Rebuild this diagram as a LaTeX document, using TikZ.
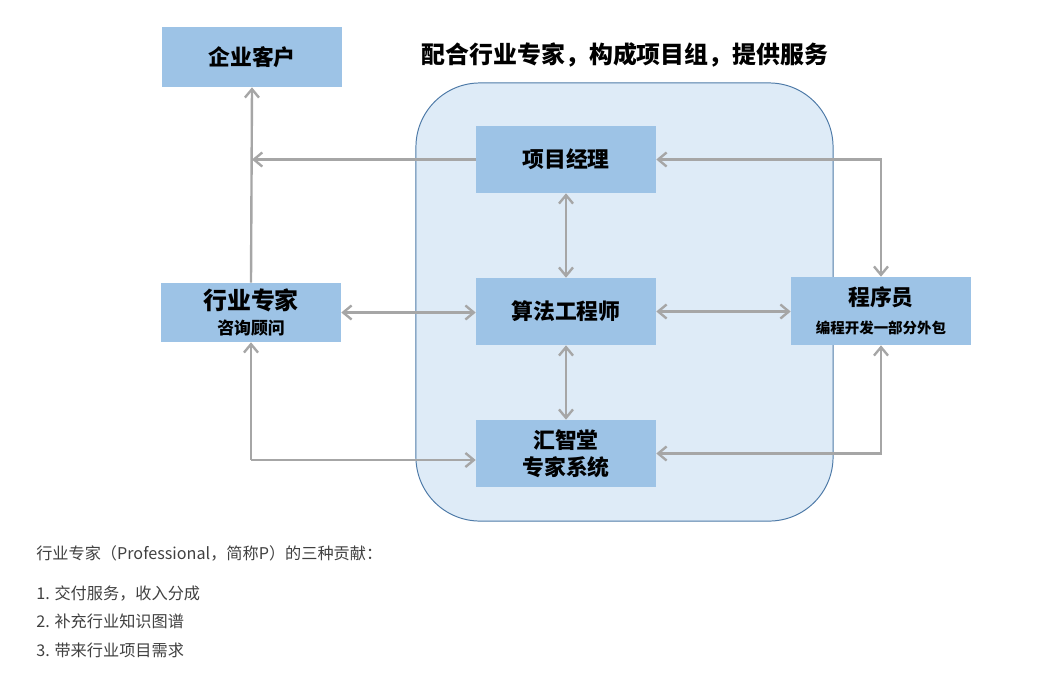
\documentclass[tikz,border=0pt]{standalone}
\usepackage{fontspec}
\setmainfont{Noto Sans CJK SC}
\usetikzlibrary{arrows.meta}
\definecolor{boxblue}{HTML}{9DC3E6}
\definecolor{teamfill}{HTML}{DEEBF7}
\definecolor{teamline}{HTML}{4F7BA8}
\definecolor{linegray}{HTML}{A6A6A6}
\definecolor{textgray}{HTML}{404040}
\begin{document}
\begin{tikzpicture}[x=0.025cm, y=-0.025cm,
        role/.style={fill=boxblue, inner sep=0pt, minimum width=4.5cm, minimum height=1.675cm,
            align=center, font=\bfseries\fontsize{15.5}{19}\selectfont},
        team/.style={draw=teamline, fill=teamfill, line width=0.7pt, rounded corners=1.6cm,
            minimum width=10.425cm, minimum height=10.95cm},
        arrow/.style={-{Straight Barb[length=6pt, width=10pt]}, linegray, line width=1.7pt},
        twoway/.style={arrow, {Straight Barb[length=6pt, width=10pt]}-{Straight Barb[length=6pt, width=10pt]}},
        note/.style={anchor=west, inner sep=0pt, text=textgray, font=\fontsize{11.5}{14}\selectfont}
    ]
    \useasboundingbox (0,0) rectangle (1041,699);
    % Team area
    \node[team] (team) at (624.5,302) {};
    \node[font=\bfseries\fontsize{17}{20}\selectfont] (title) at (625,55) {配合行业专家，构成项目组，提供服务};
    % Nodes
    \node[role, minimum height=1.5cm] (client) at (252,57) {企业客户};
    \node[role, minimum height=1.475cm] (expert) at (251,312.5)
        {{\fontsize{17}{19}\selectfont 行业专家}\\[-1pt]{\fontsize{12}{14}\selectfont 咨询顾问}};
    \node[role] (pm) at (566,159.5) {项目经理};
    \node[role] (algo) at (566,311.5) {算法工程师};
    \node[role] (hui) at (566,453.5) {汇智堂\\专家系统};
    \node[role, minimum height=1.7cm] (prog) at (881,311)
        {程序员\\[1pt]{\fontsize{10.3}{13}\selectfont 编程开发一部分外包}};
    \coordinate (join) at (251,460);
    % Edges
    \draw[arrow] (expert.north) -- (client.south);
    \draw[arrow] (pm.west) -- (pm.west -| client.south);
    \draw[twoway] (expert.east) -- (algo.west |- expert.east);
    \draw[arrow] (join) -- (expert.south);
    \draw[arrow] (join) -- (join -| hui.west);
    \draw[twoway] (pm) -- (algo);
    \draw[twoway] (algo) -- (hui);
    \draw[twoway] (algo.east) -- (prog.west |- algo.east);
    \draw[twoway] (pm.east) -| (prog.north);
    \draw[twoway] (hui.east) -| (prog.south);
    % Notes
    \node[note] (n0) at (36,553) {行业专家（Professional，简称P）的三种贡献：};
    \node[note] (n1) at (36,593) {1. 交付服务，收入分成};
    \node[note] (n2) at (36,621) {2. 补充行业知识图谱};
    \node[note] (n3) at (36,650) {3. 带来行业项目需求};
\end{tikzpicture}
\end{document}
